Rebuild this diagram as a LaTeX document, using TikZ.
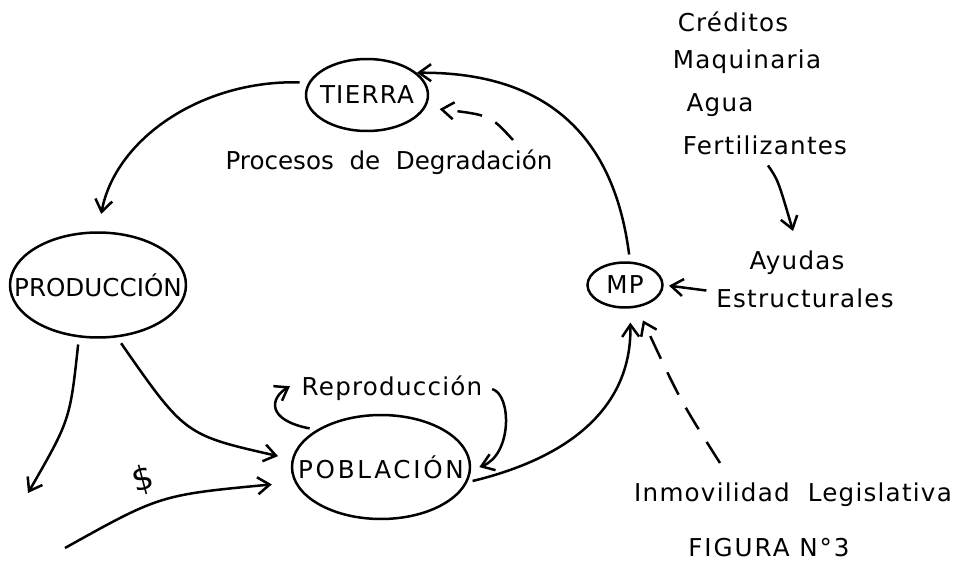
\documentclass[tikz,border=0pt]{standalone}
\usepackage{fontspec}
\setmainfont{DejaVu Sans}[LetterSpace=5]
\usetikzlibrary{shapes.geometric}
\usetikzlibrary{arrows.meta}

\begin{document}
\begin{tikzpicture}[thick,x=0.02cm,y=-0.02cm,font=\fontsize{14}{16}\selectfont,
	>={Straight Barb[length=2.4mm,width=3.4mm]}]
	\tikzset{
		caja/.style={ellipse,draw,line width=0.5mm,inner sep=-40pt},
		flecha/.style={->,line width=0.5mm},
		rayas/.style={->,line width=0.5mm,dash pattern=on 5mm off 3mm}
	}
	\useasboundingbox (0,0) rectangle (957,561);
	% (nodos)
	\node[caja,minimum width=2.44cm,minimum height=1.44cm] (tierra) at (367,95) {TIERRA};
	\node[caja,minimum width=3.52cm,minimum height=2.1cm] (produccion) at (98,285)
		{\addfontfeature{LetterSpace=0}PRODUCCIÓN};
	\node[caja,minimum width=3.56cm,minimum height=2.08cm] (poblacion) at (381,467)
		{\addfontfeature{LetterSpace=11}POBLACIÓN};
	\node[caja,minimum width=1.5cm,minimum height=0.9cm] (mp) at (625,285) {MP};
	\node (procesos) at (389,162) {\addfontfeature{LetterSpace=0}Procesos\ \ de\ \ Degradación};
	\node (creditos) at (733,22) {Créditos};
	\node (maquinaria) at (747,62) {Maquinaria};
	\node (agua) at (720,105) {Agua};
	\node (fertil) at (765,145) {Fertilizantes};
	\node (ayudas) at (797,263) {Ayudas};
	\node (estruct) at (805,298) {Estructurales};
	\node (reproduccion) at (392,388) {Reproducción};
	\node (inmov) at (793,495) {Inmovilidad\ \ Legislativa};
	\node (figura) at (769,548) {\addfontfeature{LetterSpace=8}FIGURA N°3};
	\node[rotate=15,font=\fontsize{19}{20}\selectfont] (dolar) at (143,480) {\$};
	% (extremos libres)
	\coordinate (degr) at (513,140);
	\coordinate (legis) at (720,463);
	\coordinate (salida) at (28,493);
	\coordinate (entrada) at (65,548);
	% (flechas)
	\draw[flecha,shorten <=4pt] (mp.78) .. controls (612,120) and (530,72) .. (tierra.24);
	\draw[rayas,shorten >=8pt] (degr) .. controls (490,115) .. (tierra.-12);
	\draw[flecha,shorten <=5pt,shorten >=10pt] (tierra.168) .. controls (200,80) and (115,140) .. (produccion.north);
	\draw[flecha,shorten <=4pt] (produccion.250) .. controls (70,420) .. (salida);
	\draw[flecha,shorten <=4pt,shorten >=8pt] (produccion.290) .. controls (185,435) .. (poblacion.175);
	\draw[flecha,shorten >=13pt] (entrada) .. controls (160,495) .. (poblacion.190);
	\draw[flecha,shorten <=4pt] (poblacion.150) .. controls (266,420) and (270,398) .. ([xshift=-3pt,yshift=1pt]reproduccion.west);
	\draw[flecha,shorten <=2pt,shorten >=5pt] (reproduccion.east) .. controls (512,395) and (512,455) .. (poblacion.-2);
	\draw[flecha,shorten <=3pt,shorten >=8pt] (poblacion.-10) .. controls (580,455) and (632,400) .. (mp.-78);
	\draw[rayas,shorten >=8pt] (legis) .. controls (680,400) .. (mp.-62);
	\draw[flecha,shorten <=3pt,shorten >=8pt] (fertil.south) .. controls (778,180) .. (ayudas.north);
	\draw[flecha,shorten <=2pt,shorten >=3pt] ([yshift=4pt]estruct.west) -- (mp.east);
\end{tikzpicture}
\end{document}
